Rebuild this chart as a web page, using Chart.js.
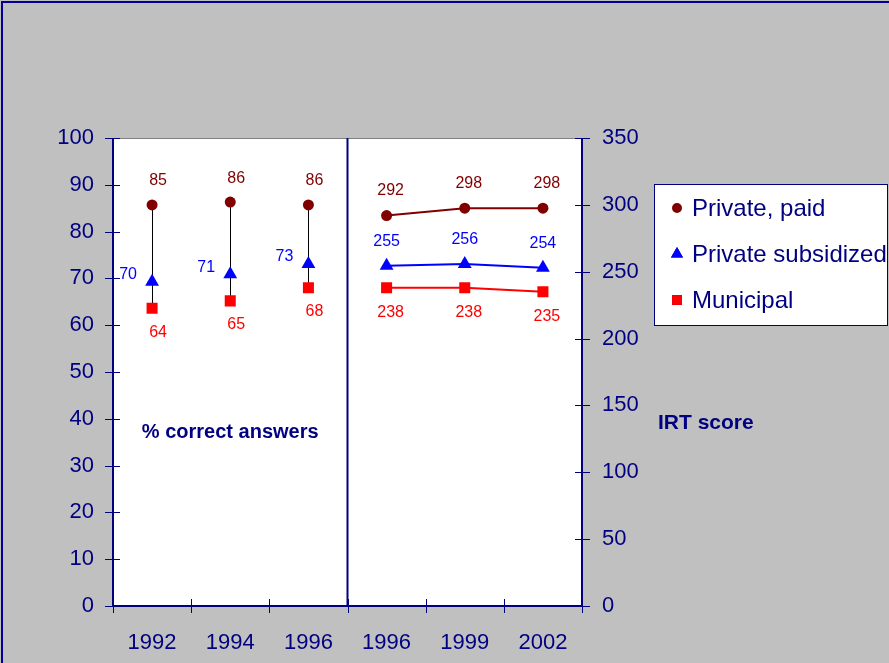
<!DOCTYPE html>
<html>
<head>
<meta charset="utf-8">
<title>Test scores by school type</title>
<script src="https://cdn.jsdelivr.net/npm/chart.js@4/dist/chart.umd.min.js"></script>
<style>
  html, body { margin: 0; padding: 0; background: #c0c0c0; }
  canvas { display: block; }
</style>
</head>
<body>
<canvas id="grafico" width="889" height="663"></canvas>
<script>
// Datos
const categorias = ['1992', '1994', '1996', '1996', '1999', '2002'];

// % de respuestas correctas (eje izquierdo), 1992-1996
const pctPagado = [85.7, 86.3, 85.7];
const pctSubvencionado = [69.3, 70.9, 73.1];
const pctMunicipal = [63.6, 65.2, 68.0];
const pctPagadoTxt = ['85', '86', '86'];
const pctSubvencionadoTxt = ['70', '71', '73'];
const pctMunicipalTxt = ['64', '65', '68'];

// Puntaje IRT (eje derecho), 1996-2002
const irtPagado = [292, 297.5, 297.5];
const irtSubvencionado = [254.5, 255.8, 253];
const irtMunicipal = [238, 238, 235];
const irtPagadoTxt = ['292', '298', '298'];
const irtSubvencionadoTxt = ['255', '256', '254'];
const irtMunicipalTxt = ['238', '238', '235'];

const ticksIzq = [0, 10, 20, 30, 40, 50, 60, 70, 80, 90, 100];
const ticksDer = [0, 50, 100, 150, 200, 250, 300, 350];

const series = ['Private, paid', 'Private subsidized', 'Municipal'];
const colores = ['#800000', '#0000ff', '#ff0000'];
const marcas = ['circle', 'triangle', 'rect'];
const radios = [5.5, 8, 7.8];

const AZUL = '#000080';
const FUENTE = 'Arial, "Liberation Sans", sans-serif';

const nulos = [null, null, null];
const izq = arr => arr.concat(nulos);
const der = arr => nulos.concat(arr);

function serie(i, datos, textos, eje, linea, dx, dy) {
    return {
        label: series[i],
        data: datos,
        yAxisID: eje,
        showLine: linea,
        borderColor: colores[i],
        borderWidth: 2,
        backgroundColor: colores[i],
        pointStyle: marcas[i],
        pointRadius: radios[i],
        pointBorderWidth: 0,
        pointBackgroundColor: colores[i],
        spanGaps: false,
        textos: textos,
        dx: dx,
        dy: dy
    };
}

const datasets = [
    serie(0, izq(pctPagado), izq(pctPagadoTxt), 'y', false, 6, -24),
    serie(1, izq(pctSubvencionado), izq(pctSubvencionadoTxt), 'y', false, -24, -7),
    serie(2, izq(pctMunicipal), izq(pctMunicipalTxt), 'y', false, 6, 24),
    serie(0, der(irtPagado), der(irtPagadoTxt), 'y2', true, 4, -25),
    serie(1, der(irtSubvencionado), der(irtSubvencionadoTxt), 'y2', true, 0, -24),
    serie(2, der(irtMunicipal), der(irtMunicipalTxt), 'y2', true, 4, 25)
];

// Fondo gris, area blanca y marco superior/izquierdo
const fondo = {
    id: 'fondo',
    beforeDraw(chart) {
        const { ctx, chartArea: a, width, height } = chart;
        ctx.save();
        ctx.fillStyle = '#c0c0c0';
        ctx.fillRect(0, 0, width, height);
        ctx.fillStyle = '#ffffff';
        ctx.fillRect(a.left, a.top, a.right - a.left, a.bottom - a.top);
        ctx.fillStyle = '#000099';
        ctx.fillRect(1, 1, width, 2);
        ctx.fillRect(1, 1, 2, height);
        ctx.restore();
    }
};

// Lineas verticales entre maximo y minimo (1992-1996)
const rangos = {
    id: 'rangos',
    beforeDatasetsDraw(chart) {
        const { ctx } = chart;
        const x = chart.scales.x, y = chart.scales.y;
        ctx.save();
        ctx.strokeStyle = '#000000';
        ctx.lineWidth = 1;
        for (let i = 0; i < pctPagado.length; i++) {
            const vals = [pctPagado[i], pctSubvencionado[i], pctMunicipal[i]];
            const px = Math.round(x.getPixelForValue(i)) + 0.5;
            ctx.beginPath();
            ctx.moveTo(px, y.getPixelForValue(Math.max(...vals)));
            ctx.lineTo(px, y.getPixelForValue(Math.min(...vals)));
            ctx.stroke();
        }
        ctx.restore();
    }
};

// Ejes, marcas, etiquetas de datos, titulos y leyenda
const adornos = {
    id: 'adornos',
    afterDraw(chart) {
        const { ctx, chartArea: a } = chart;
        const x = chart.scales.x, y = chart.scales.y, y2 = chart.scales.y2;
        ctx.save();

        // borde superior gris
        ctx.strokeStyle = '#808080';
        ctx.lineWidth = 1;
        ctx.beginPath();
        ctx.moveTo(a.left, a.top + 0.5);
        ctx.lineTo(a.right, a.top + 0.5);
        ctx.stroke();

        // ejes
        ctx.strokeStyle = AZUL;
        ctx.lineWidth = 2;
        ctx.beginPath();
        ctx.moveTo(a.left, a.top);
        ctx.lineTo(a.left, a.bottom);
        ctx.lineTo(a.right, a.bottom);
        ctx.lineTo(a.right, a.top);
        const div = x.getPixelForValue(2.5);
        ctx.moveTo(div, a.top);
        ctx.lineTo(div, a.bottom);
        ctx.stroke();

        // marcas cruzadas
        ctx.lineWidth = 1;
        ctx.beginPath();
        ticksIzq.forEach(v => {
            const py = Math.round(y.getPixelForValue(v)) + 0.5;
            ctx.moveTo(a.left - 8, py);
            ctx.lineTo(a.left + 7, py);
        });
        ticksDer.forEach(v => {
            const py = Math.round(y2.getPixelForValue(v)) + 0.5;
            ctx.moveTo(a.right - 7, py);
            ctx.lineTo(a.right + 8, py);
        });
        for (let i = 0; i <= categorias.length; i++) {
            const px = Math.round(x.getPixelForValue(i - 0.5)) + 0.5;
            ctx.moveTo(px, a.bottom - 7);
            ctx.lineTo(px, a.bottom + 7);
        }
        ctx.stroke();

        // etiquetas de datos
        ctx.font = '16px ' + FUENTE;
        ctx.textAlign = 'center';
        ctx.textBaseline = 'middle';
        chart.data.datasets.forEach((ds, i) => {
            const meta = chart.getDatasetMeta(i);
            meta.data.forEach((p, j) => {
                if (ds.data[j] === null) return;
                ctx.fillStyle = ds.borderColor;
                ctx.fillText(ds.textos[j], p.x + ds.dx, p.y + ds.dy);
            });
        });

        // titulos de los ejes
        ctx.fillStyle = AZUL;
        ctx.font = 'bold 20px ' + FUENTE;
        ctx.fillText('% correct answers', x.getPixelForValue(1), 432);
        ctx.textAlign = 'left';
        ctx.font = 'bold 21px ' + FUENTE;
        ctx.fillText('IRT score', 658, 423);

        // leyenda
        ctx.fillStyle = '#ffffff';
        ctx.fillRect(654, 184, 234, 142);
        ctx.strokeStyle = AZUL;
        ctx.lineWidth = 1;
        ctx.strokeRect(654.5, 184.5, 233, 141);
        ctx.font = '24px ' + FUENTE;
        series.forEach((nombre, i) => {
            const cy = 208 + i * 46;
            Chart.helpers.drawPoint(ctx, {
                pointStyle: marcas[i],
                radius: i === 0 ? 5 : 7,
                borderWidth: 0
            }, 677, cy);
            ctx.fillStyle = colores[i];
            ctx.fill();
            ctx.fillStyle = AZUL;
            ctx.fillText(nombre, 692, cy + 1);
        });

        ctx.restore();
    }
};

new Chart(document.getElementById('grafico'), {
    type: 'line',
    data: { labels: categorias, datasets: datasets },
    options: {
        responsive: false,
        animation: false,
        devicePixelRatio: 1,
        layout: { padding: { top: 138, left: 0, right: 0, bottom: 0 } },
        plugins: {
            legend: { display: false },
            tooltip: { enabled: false }
        },
        scales: {
            x: {
                offset: true,
                grid: { display: false },
                border: { display: false },
                ticks: {
                    color: AZUL,
                    font: { family: FUENTE, size: 22 },
                    padding: 16,
                    maxRotation: 0
                },
                afterFit(s) { s.height = 57; }
            },
            y: {
                position: 'left',
                min: 0,
                max: 100,
                grid: { display: false },
                border: { display: false },
                ticks: {
                    stepSize: 10,
                    color: AZUL,
                    font: { family: FUENTE, size: 22 },
                    padding: 11
                },
                afterFit(s) { s.width = 113; }
            },
            y2: {
                position: 'right',
                min: 0,
                max: 350,
                grid: { display: false },
                border: { display: false },
                ticks: {
                    stepSize: 50,
                    color: AZUL,
                    font: { family: FUENTE, size: 22 },
                    padding: 12
                },
                afterFit(s) { s.width = 307; }
            }
        }
    },
    plugins: [fondo, rangos, adornos]
});
</script>
</body>
</html>
